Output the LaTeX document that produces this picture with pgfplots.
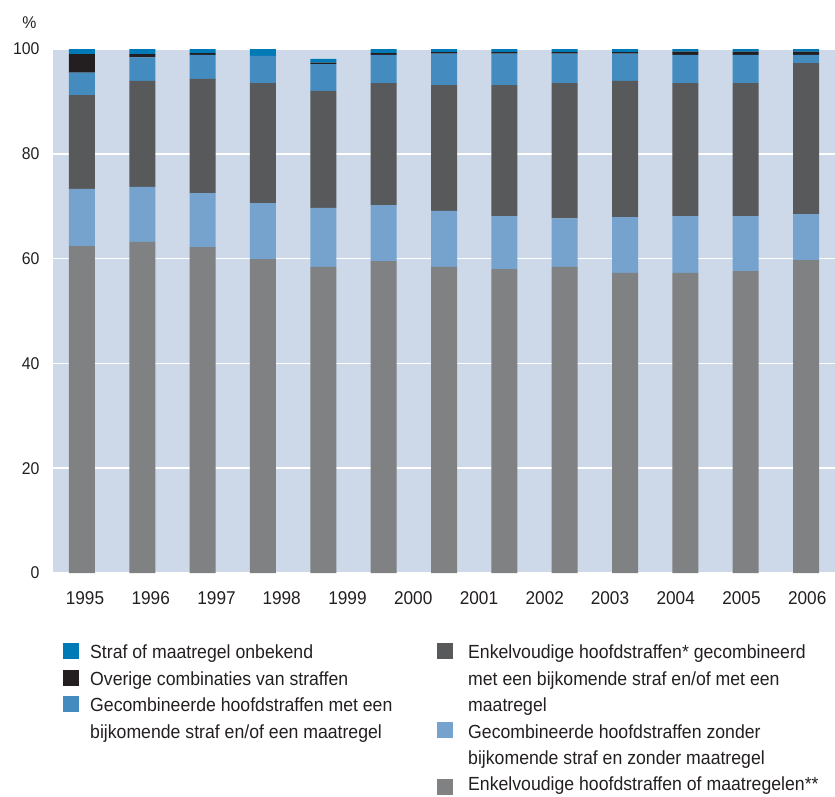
\documentclass[border=0pt]{standalone}
\usepackage{fontspec}
\setmainfont{Liberation Sans}[FakeStretch=0.93]
\usepackage{pgfplots}
\usepackage{pgfplotstable}
\pgfplotsset{compat=1.18}
\definecolor{cblue}{RGB}{0,122,182}
\definecolor{cblack}{RGB}{35,31,32}
\definecolor{cmid}{RGB}{68,139,192}
\definecolor{cdark}{RGB}{88,89,91}
\definecolor{clight}{RGB}{117,163,205}
\definecolor{cgray}{RGB}{128,129,131}
\definecolor{bgblue}{RGB}{205,217,233}
\definecolor{txt}{RGB}{35,31,32}
\pgfplotstableread{
x  gray  lb    dg    mb   blk  blue
0  62.4  10.9  17.9  4.3  3.5  1.0
1  63.2  10.5  20.2  4.5  0.6  1.0
2  62.2  10.3  21.8  4.6  0.3  0.8
3  59.9  10.7  22.9  5.2  0.0  1.3
4  58.4  11.3  22.3  5.1  0.3  0.7
5  59.5  10.7  23.3  5.4  0.3  0.8
6  58.4  10.7  24.0  6.0  0.3  0.6
7  58.0  10.1  25.0  6.0  0.3  0.6
8  58.4  9.3   25.8  5.6  0.3  0.6
9  57.3  10.6  26.0  5.2  0.3  0.6
10 57.3  10.8  25.4  5.4  0.6  0.5
11 57.6  10.5  25.4  5.4  0.6  0.5
12 59.7  8.8   28.8  1.6  0.6  0.5
}\data
\begin{document}
\begin{tikzpicture}[x=1pt,y=1pt]
\useasboundingbox (0,0) rectangle (835,-796);
\begin{axis}[
  at={(53pt,-573pt)}, anchor=south west,
  scale only axis, width=782pt, height=524pt,
  xmin=-0.48, xmax=12.48, ymin=0, ymax=100,
  ybar stacked, bar width=26pt,
  axis background/.style={fill=bgblue},
  axis line style={draw=none},
  major tick length=0pt,
  ytick={0,20,40,60,80,100},
  ymajorgrids, grid style={white, line width=1.5pt},
  xtick={0.05,1.14,2.23,3.31,4.40,5.49,6.58,7.67,8.75,9.84,10.93,12.02},
  xticklabels={1995,1996,1997,1998,1999,2000,2001,2002,2003,2004,2005,2006},
  /pgf/number format/assume math mode=true,
  xticklabel style={anchor=base, yshift=-31pt, font=\fontsize{18.5}{18.5}\selectfont, text=txt},
  yticklabel style={xshift=-10pt, font=\fontsize{17}{17}\selectfont, text=txt},
]
\addplot[fill=cgray, draw=none] table[x=x,y=gray]{\data};
\addplot[fill=clight, draw=none] table[x=x,y=lb]{\data};
\addplot[fill=cdark, draw=none] table[x=x,y=dg]{\data};
\addplot[fill=cmid, draw=none] table[x=x,y=mb]{\data};
\addplot[fill=cblack, draw=none] table[x=x,y=blk]{\data};
\addplot[fill=cblue, draw=none] table[x=x,y=blue]{\data};
\end{axis}
\node[text=txt, font=\fontsize{17}{17}\selectfont] at (29.5,-22.5) {\%};
% legend
\begin{scope}[every node/.style={inner sep=0pt, anchor=base west, text=txt, font=\fontsize{19}{19}\selectfont}]
\fill[cblue]  (63,-643) rectangle (79,-659);
\node at (90,-658.5) {Straf of maatregel onbekend};
\fill[cblack] (63,-669.5) rectangle (79,-685.5);
\node at (90,-685) {Overige combinaties van straffen};
\fill[cmid]   (63,-696) rectangle (79,-712);
\node at (90,-711.5) {Gecombineerde hoofdstraffen met een};
\node at (90,-738) {bijkomende straf en/of een maatregel};
\fill[cdark]  (437,-643) rectangle (453,-659);
\node at (468,-658.5) {Enkelvoudige hoofdstraffen* gecombineerd};
\node at (468,-685) {met een bijkomende straf en/of met een};
\node at (468,-711.5) {maatregel};
\fill[clight] (437,-722) rectangle (453,-738);
\node at (468,-738) {Gecombineerde hoofdstraffen zonder};
\node at (468,-764) {bijkomende straf en zonder maatregel};
\fill[cgray]  (437,-779) rectangle (453,-795);
\node at (468,-790.5) {Enkelvoudige hoofdstraffen of maatregelen**};
\end{scope}
\end{tikzpicture}
\end{document}
